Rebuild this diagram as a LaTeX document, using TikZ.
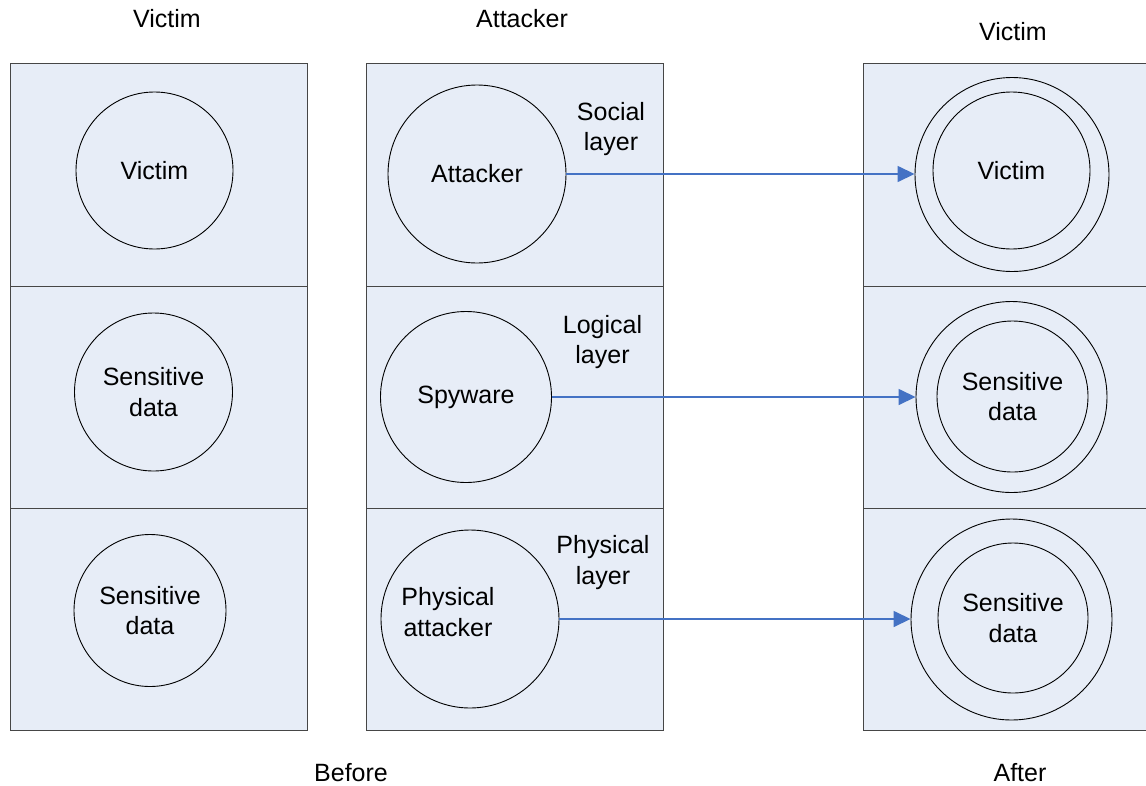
\documentclass[tikz,border=0pt]{standalone}
\usepackage{fontspec}
\setmainfont{Liberation Sans}
\usetikzlibrary{arrows.meta}
\definecolor{panelfill}{RGB}{231,237,247}
\definecolor{panelline}{RGB}{70,70,70}
\definecolor{arrowblue}{RGB}{68,114,196}
\begin{document}
\begin{tikzpicture}[x=1pt,y=-1pt,
  every node/.style={font=\fontsize{25}{30.5}\selectfont},
  panel/.style={fill=panelfill,draw=panelline,line width=1pt},
  ring/.style={circle,draw=black,line width=0.9pt,inner sep=0pt,align=center},
  txt/.style={align=center,inner sep=0pt},
  link/.style={draw=arrowblue,line width=1.5pt,-{Triangle[length=17pt,width=16pt]}}]
\useasboundingbox (0,0) rectangle (1146,785);
\clip (0,0) rectangle (1146,785);
% panels
\foreach \xa/\xb in {10/307,366/663,863/1160}{
  \path[panel] (\xa,63) rectangle (\xb,286);
  \path[panel] (\xa,286) rectangle (\xb,508.5);
  \path[panel] (\xa,508.5) rectangle (\xb,730);
}
% left column (before, victim)
\node[ring,minimum size=157pt] (v1) at (154.5,170.5) {Victim};
\node[ring,minimum size=158pt] (s1) at (153.5,392) {Sensitive\\data};
\node[ring,minimum size=152pt] (s2) at (150,610.5) {Sensitive\\data};
% middle column (attacker)
\node[ring,minimum size=178pt] (att) at (477,174) {Attacker};
\node[ring,minimum size=171pt] (spy) at (466,397) {Spyware};
\node[ring,minimum size=178pt] (phy) at (470,619) {};
\node[txt] (phyt) at (448,612) {Physical\\attacker};
% right column (after)
\node[ring,minimum size=194pt] (vo) at (1012,174.5) {};
\node[ring,minimum size=157pt] (vi) at (1011.5,170.5) {Victim};
\node[ring,minimum size=191pt] (so) at (1011.5,397) {};
\node[ring,minimum size=151pt] (si) at (1012.5,396.5) {Sensitive\\data};
\node[ring,minimum size=201pt] (po) at (1011.5,619.5) {};
\node[ring,minimum size=150pt] (pi) at (1013,618) {Sensitive\\data};
% layer labels
\node[txt] (soc) at (611,129) {Social\\layer};
\node[txt] (log) at (602.5,342) {Logical\\layer};
\node[txt] (phl) at (603,562.5) {Physical\\layer};
% headings
\node[txt] (hv) at (167,19) {Victim};
\node[txt] (ha) at (522,19) {Attacker};
\node[txt] (hr) at (1013,32) {Victim};
\node[txt] (bef) at (351,772.5) {Before};
\node[txt] (aft) at (1020,772.5) {After};
% connectors
\draw[link] (att.east) -- (att.east -| vo.west);
\draw[link] (spy.east) -- (spy.east -| so.west);
\draw[link] (phy.east) -- (phy.east -| po.west);
\end{tikzpicture}
\end{document}
